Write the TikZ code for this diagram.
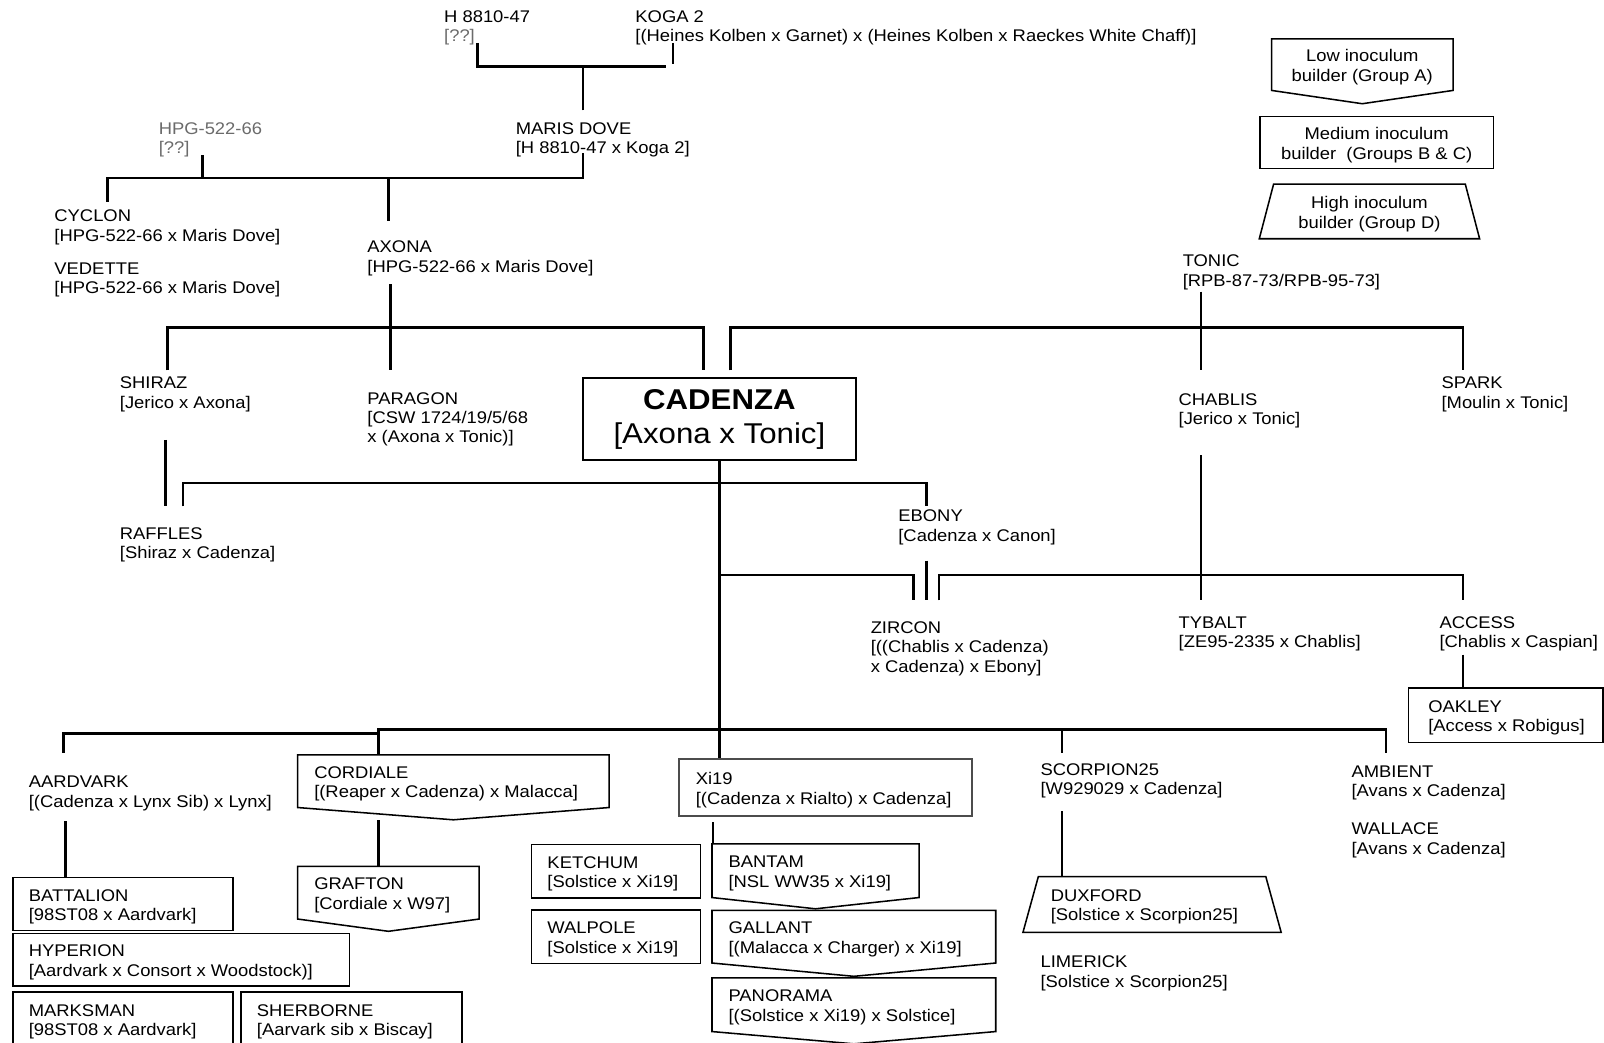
\documentclass[tikz,border=0pt]{standalone}
\usepackage{fontspec}
\setmainfont[FakeStretch=1.09]{Liberation Sans}
\usetikzlibrary{positioning}

\definecolor{unknowngray}{gray}{0.42}
\definecolor{xiborder}{gray}{0.3}
\newcommand\labelsize{\fontsize{16.5}{19}\selectfont}
\newcommand\mainsize{\fontsize{28}{33}\selectfont}

\begin{document}
\begin{tikzpicture}[x=1pt,y=-1pt,
	every node/.style={font=\labelsize},
	lbl/.style={align=left, anchor=base west, inner sep=0pt},
	inlbl/.style={align=left, inner sep=0pt, yshift=-2.5pt},
	link/.style={line width=2.6pt},
	boxed/.style={draw, line width=1.5pt, anchor=north west, inner sep=0pt},
	body/.style={anchor=north west, inner sep=0pt},
	outline/.style={line width=1.5pt}]
		\useasboundingbox (0,0) rectangle (1568,1019);
		
		% legend
		\node[body, minimum width=177pt, minimum height=50pt] (low) at (1243,38) {};
		\draw[outline] (low.north west) -- (low.north east) -- (low.south east) -- ([yshift=-13pt]low.south) -- (low.south west) -- cycle;
		\node[inlbl, align=center] (low text) at (low) {Low inoculum\\builder (Group A)};
		\node[boxed, minimum width=228pt, minimum height=51pt] (medium) at (1231,113) {};
		\node[inlbl, align=center] (medium text) at (medium) {Medium inoculum\\builder\ \ (Groups B \& C)};
		\node[body, minimum width=187pt, minimum height=53pt] (high) at (1245,180) {};
		\draw[outline] (high.north west) -- (high.north east) -- ([xshift=14pt]high.south east) -- ([xshift=-14pt]high.south west) -- cycle;
		\node[inlbl, align=center] (high text) at (high) {High inoculum\\builder (Group D)};
		
		% older generations (placed at the baseline of the last line)
		\node[lbl] (h8810) at (434,41) {H 8810-47\\\textcolor{unknowngray}{[??]}};
		\node[lbl] (koga) at (621,41) {KOGA 2\\{}[(Heines Kolben x Garnet) x (Heines Kolben x Raeckes White Chaff)]};
		\node[lbl, text=unknowngray] (hpg) at (155,150) {HPG-522-66\\{}[??]};
		\node[lbl] (marisdove) at (504,150) {MARIS DOVE\\{}[H 8810-47 x Koga 2]};
		\node[lbl] (cyclon) at (53,236) {CYCLON\\{}[HPG-522-66 x Maris Dove]};
		\node[lbl] (vedette) at (53,287) {VEDETTE\\{}[HPG-522-66 x Maris Dove]};
		\node[lbl] (axona) at (359,266) {AXONA\\{}[HPG-522-66 x Maris Dove]};
		\node[lbl] (tonic) at (1156,280) {TONIC\\{}[RPB-87-73/RPB-95-73]};
		
		% Cadenza and its generation
		\node[boxed, minimum width=267pt, minimum height=80pt, align=center, font=\mainsize] (cadenza) at (569,369) {\textbf{CADENZA}\\{}[Axona x Tonic]};
		\node[lbl] (shiraz) at (117,399) {SHIRAZ\\{}[Jerico x Axona]};
		\node[lbl] (paragon) at (359,433) {PARAGON\\{}[CSW 1724/19/5/68\\x (Axona x Tonic)]};
		\node[lbl] (chablis) at (1152,415) {CHABLIS\\{}[Jerico x Tonic]};
		\node[lbl] (spark) at (1409,399) {SPARK\\{}[Moulin x Tonic]};
		\node[lbl] (raffles) at (117,546) {RAFFLES\\{}[Shiraz x Cadenza]};
		\node[lbl] (ebony) at (878,529) {EBONY\\{}[Cadenza x Canon]};
		\node[lbl] (zircon) at (851,657) {ZIRCON\\{}[((Chablis x Cadenza)\\x Cadenza) x Ebony]};
		\node[lbl] (tybalt) at (1152,633) {TYBALT\\{}[ZE95-2335 x Chablis]};
		\node[lbl] (access) at (1407,633) {ACCESS\\{}[Chablis x Caspian]};
		\node[boxed, minimum width=190pt, minimum height=53pt] (oakley) at (1376,672) {};
		\node[inlbl, right=20pt of oakley.west] (oakley text) {OAKLEY\\{}[Access x Robigus]};
		
		% bottom row
		\node[lbl] (aardvark) at (28,789) {AARDVARK\\{}[(Cadenza x Lynx Sib) x Lynx]};
		\node[body, minimum width=304pt, minimum height=51pt] (cordiale) at (291,738) {};
		\draw[outline] (cordiale.north west) -- (cordiale.north east) -- (cordiale.south east) -- ([yshift=-12pt]cordiale.south) -- (cordiale.south west) -- cycle;
		\node[inlbl, right=16pt of cordiale.west] (cordiale text) {CORDIALE\\{}[(Reaper x Cadenza) x Malacca]};
		\node[boxed, draw=xiborder, line width=2pt, minimum width=286pt, minimum height=56pt] (xi19) at (663,741) {};
		\node[inlbl, right=17pt of xi19.west] (xi19 text) {Xi19\\{}[(Cadenza x Rialto) x Cadenza]};
		\node[lbl] (scorpion) at (1017,777) {SCORPION25\\{}[W929029 x Cadenza]};
		\node[lbl] (ambient) at (1321,779) {AMBIENT\\{}[Avans x Cadenza]};
		\node[lbl] (wallace) at (1321,835) {WALLACE\\{}[Avans x Cadenza]};
		
		\node[boxed, minimum width=215pt, minimum height=52pt] (battalion) at (12,857) {};
		\node[inlbl, right=16pt of battalion.west] (battalion text) {BATTALION\\{}[98ST08 x Aardvark]};
		\node[boxed, minimum width=329pt, minimum height=51pt] (hyperion) at (12,912) {};
		\node[inlbl, right=16pt of hyperion.west] (hyperion text) {HYPERION\\{}[Aardvark x Consort x Woodstock)]};
		\node[boxed, minimum width=215pt, minimum height=53pt] (marksman) at (12,969) {};
		\node[inlbl, right=16pt of marksman.west] (marksman text) {MARKSMAN\\{}[98ST08 x Aardvark]};
		\node[boxed, minimum width=216pt, minimum height=53pt] (sherborne) at (235,969) {};
		\node[inlbl, right=16pt of sherborne.west] (sherborne text) {SHERBORNE\\{}[Aarvark sib x Biscay]};
		
		\node[body, minimum width=177pt, minimum height=51pt] (grafton) at (291,847) {};
		\draw[outline] (grafton.north west) -- (grafton.north east) -- (grafton.south east) -- ([yshift=-12pt]grafton.south) -- (grafton.south west) -- cycle;
		\node[inlbl, right=16pt of grafton.west] (grafton text) {GRAFTON\\{}[Cordiale x W97]};
		
		\node[boxed, minimum width=165pt, minimum height=52pt] (ketchum) at (519,825) {};
		\node[inlbl, right=16pt of ketchum.west] (ketchum text) {KETCHUM\\{}[Solstice x Xi19]};
		\node[boxed, minimum width=165pt, minimum height=52pt] (walpole) at (519,889) {};
		\node[inlbl, right=16pt of walpole.west] (walpole text) {WALPOLE\\{}[Solstice x Xi19]};
		
		\node[body, minimum width=202pt, minimum height=52pt] (bantam) at (696,825) {};
		\draw[outline] (bantam.north west) -- (bantam.north east) -- (bantam.south east) -- ([yshift=-11pt]bantam.south) -- (bantam.south west) -- cycle;
		\node[inlbl, right=16pt of bantam.west] (bantam text) {BANTAM\\{}[NSL WW35 x Xi19]};
		\node[body, minimum width=277pt, minimum height=51pt] (gallant) at (696,890) {};
		\draw[outline] (gallant.north west) -- (gallant.north east) -- (gallant.south east) -- ([yshift=-13pt]gallant.south) -- (gallant.south west) -- cycle;
		\node[inlbl, right=16pt of gallant.west] (gallant text) {GALLANT\\{}[(Malacca x Charger) x Xi19]};
		\node[body, minimum width=277pt, minimum height=52pt] (panorama) at (696,956) {};
		\draw[outline] (panorama.north west) -- (panorama.north east) -- (panorama.south east) -- ([yshift=-12pt]panorama.south) -- (panorama.south west) -- cycle;
		\node[inlbl, right=16pt of panorama.west] (panorama text) {PANORAMA\\{}[(Solstice x Xi19) x Solstice]};
		
		\node[body, minimum width=222pt, minimum height=54pt] (duxford) at (1015,857) {};
		\draw[outline] (duxford.north west) -- (duxford.north east) -- ([xshift=15pt]duxford.south east) -- ([xshift=-15pt]duxford.south west) -- cycle;
		\node[inlbl, right=12pt of duxford.west] (duxford text) {DUXFORD\\{}[Solstice x Scorpion25]};
		\node[lbl] (limerick) at (1017,965) {LIMERICK\\{}[Solstice x Scorpion25]};
		
		% Maris Dove from H 8810-47 and Koga 2
		\coordinate (h8810 stem) at (467,42);
		\coordinate (koga stem) at (658,42);
		\coordinate (dove bus) at (651,65);
		\coordinate (dove up) at (570,108);
		\draw[link] (h8810 stem) |- (dove bus);
		\draw[link] (koga stem) -- ++(0,21);
		\draw[link] (dove up) -- (dove up |- dove bus);
		
		% Cyclon, Vedette, Axona
		\coordinate (dove down) at (570,150);
		\coordinate (hpg stem) at (198,152);
		\coordinate (axona bus) at (570,174);
		\coordinate (cyclon stem) at (105,197);
		\coordinate (axona up) at (380,216);
		\draw[link] (dove down) -- (axona bus) -| (cyclon stem);
		\draw[link] (hpg stem) -- (hpg stem |- axona bus);
		\draw[link] (axona up) -- (axona up |- axona bus);
		
		% Axona to Shiraz, Paragon, Cadenza
		\coordinate (axona down) at (382,278);
		\coordinate (paragon stem) at (382,362);
		\coordinate (shiraz stem) at (164,362);
		\coordinate (axona line) at (688,320);
		\draw[link] (axona down) -- (paragon stem);
		\draw[link] (shiraz stem) |- (axona line) -- ++(0,42);
		
		% Tonic to Cadenza, Chablis, Spark
		\coordinate (tonic down) at (1174,285);
		\coordinate (chablis stem) at (1174,362);
		\coordinate (cadenza stem) at (714,362);
		\coordinate (tonic line) at (1430,320);
		\draw[link] (tonic down) -- (chablis stem);
		\draw[link] (cadenza stem) |- (tonic line) -- ++(0,42);
		
		% Cadenza down the middle
		\draw[link] (cadenza.south) -- (cadenza.south |- xi19.north);
		\coordinate (shiraz down) at (162,430);
		\coordinate (raffles stem) at (179,495);
		\coordinate (ebony line) at (906,472);
		\draw[link] (shiraz down) -- ++(0,65);
		\draw[link] (raffles stem) |- (ebony line) -- ++(0,23);
		
		% Zircon
		\coordinate (ebony down) at (906,548);
		\coordinate (zircon left) at (893,587);
		\coordinate (zircon bus) at (893,562);
		\draw[link] (ebony down) -- ++(0,39);
		\draw[link] (zircon bus -| cadenza.south) -- (zircon bus) -- (zircon left);
		
		% Chablis to Zircon, Tybalt, Access
		\coordinate (chablis down) at (1174,445);
		\coordinate (tybalt stem) at (1174,587);
		\coordinate (zircon right) at (918,587);
		\coordinate (chablis line) at (1430,562);
		\draw[link] (chablis down) -- (tybalt stem);
		\draw[link] (zircon right) |- (chablis line) -- ++(0,25);
		\coordinate (access down) at (1430,640);
		\draw[link] (access down) -- (access down |- oakley.north);
		
		% Cadenza to the bottom row
		\coordinate (aardvark stem) at (62,736);
		\coordinate (bus step) at (370,717);
		\coordinate (bus end) at (1355,713);
		\coordinate (scorpion stem) at (1038,736);
		\draw[link] (aardvark stem) |- (bus step);
		\draw[link] (cordiale.north -| bus step) |- (bus end) -- ++(0,23);
		\draw[link] (scorpion stem) -- (scorpion stem |- bus end);
		
		% last generation
		\coordinate (aardvark down) at (64,803);
		\coordinate (cordiale down) at (370,802);
		\coordinate (xi19 down) at (697,804);
		\coordinate (scorpion down) at (1038,793);
		\draw[link] (aardvark down) -- (aardvark down |- battalion.north);
		\draw[link] (cordiale down) -- (cordiale down |- grafton.north);
		\draw[link] (xi19 down) -- (xi19 down |- bantam.north);
		\draw[link] (scorpion down) -- (scorpion down |- duxford.north);
		
	\end{tikzpicture}
\end{document}
